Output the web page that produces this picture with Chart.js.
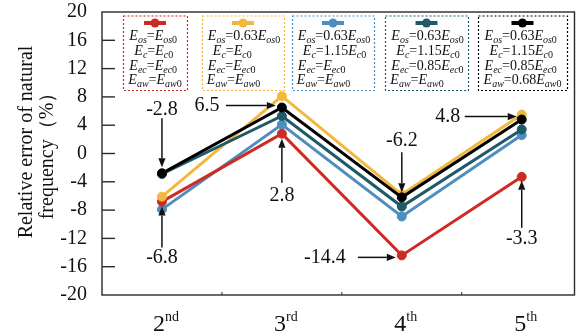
<!DOCTYPE html>
<html>
<head>
<meta charset="utf-8">
<script src="https://cdn.jsdelivr.net/npm/chart.js@4.4.1/dist/chart.umd.min.js"></script>
<style>
  html, body { margin: 0; padding: 0; background: #ffffff; }
  #wrap { width: 580px; height: 333px; position: relative; }
  #probe { position: absolute; left: -9999px; top: 0; font-family: "Liberation Serif"; font-size: 20px; }
  #probe i { font-style: italic; }
</style>
</head>
<body>
<div id="wrap"><canvas id="chart" width="580" height="333"></canvas></div>
<span id="probe">Relative 0123456789 <i>Eosc</i></span>
<script>
// Vibration orders on the horizontal axis
const modeOrders = [2, 3, 4, 5];
const modeSuffixes = ['nd', 'rd', 'th', 'th'];

// Vertical axis range and tick step (%)
const yMin = -20;
const yMax = 20;
const yStep = 4;

// Relative error of natural frequency (%) for each parameter case
const caseBase   = [-6.8, 2.8, -14.4, -3.3];
const caseOs     = [-6.1, 8.1, -5.8, 5.5];
const caseOsC    = [-7.9, 4.1, -8.9, 2.6];
const caseOsCEc  = [-2.9, 5.3, -7.5, 3.4];
const caseAll    = [-2.8, 6.5, -6.2, 4.8];

// Parameter descriptions shown in each legend box
const legendBase  = ['E_{os}=E_{os0}', 'E_{c}=E_{c0}', 'E_{ec}=E_{ec0}', 'E_{aw}=E_{aw0}'];
const legendOs    = ['E_{os}=0.63E_{os0}', 'E_{c}=E_{c0}', 'E_{ec}=E_{ec0}', 'E_{aw}=E_{aw0}'];
const legendOsC   = ['E_{os}=0.63E_{os0}', 'E_{c}=1.15E_{c0}', 'E_{ec}=E_{ec0}', 'E_{aw}=E_{aw0}'];
const legendOsCEc = ['E_{os}=0.63E_{os0}', 'E_{c}=1.15E_{c0}', 'E_{ec}=0.85E_{ec0}', 'E_{aw}=E_{aw0}'];
const legendAll   = ['E_{os}=0.63E_{os0}', 'E_{c}=1.15E_{c0}', 'E_{ec}=0.85E_{ec0}', 'E_{aw}=0.68E_{aw0}'];

// Which points get a value callout: [dataset index, point index]
const calloutPoints = [[4, 0], [4, 1], [0, 1], [0, 0], [0, 2], [4, 2], [4, 3], [0, 3]];

// ---- styling -------------------------------------------------------------
const SERIF = '"Liberation Serif", "Times New Roman", Times, serif';
const colors = ['#cf2b25', '#f2b73d', '#4d8dbf', '#1f5a69', '#000000'];
const drawOrder = [3, 2, 4, 1, 0];   // lower = drawn on top
const seriesValues = [caseBase, caseOs, caseOsC, caseOsCEc, caseAll];
const legendTexts = [legendBase, legendOs, legendOsC, legendOsCEc, legendAll];

// legend box rectangles [x, y, w, h]
const legendBoxes = [
  [123, 15.5, 64, 74.5],
  [202, 15.5, 82, 74.5],
  [292, 15.5, 82, 74.5],
  [385, 15.5, 83, 74.5],
  [478, 15.5, 89, 74.5]
];

// callout geometry relative to the point: side, text offset, arrow start/end offset
const calloutLayout = [
  { side: 'above', t: -64, a0: -55, a1: -6 },
  { side: 'left', t: -75, ty: -2, a0: -56, a1: -6 },
  { side: 'below', t: 62, a0: 49, a1: 5 },
  { side: 'below', t: 56, a0: 46, a1: 5 },
  { side: 'left', t: -77, ty: 2, a0: -44, a1: -6 },
  { side: 'above', t: -57, a0: -45, a1: -5 },
  { side: 'left', t: -74, ty: -3, a0: -57, a1: -5 },
  { side: 'below', t: 62, a0: 51, a1: 4 }
];

const datasets = seriesValues.map((vals, k) => ({
  data: vals.map((v, i) => ({ x: modeOrders[i], y: v })),
  borderColor: colors[k],
  backgroundColor: colors[k],
  pointBackgroundColor: colors[k],
  pointBorderColor: colors[k],
  borderWidth: 3,
  pointRadius: 4.5,
  pointBorderWidth: 1,
  tension: 0,
  order: drawOrder[k]
}));

// ---- helpers --------------------------------------------------------------
function parseMath(str) {
  const parts = [];
  let i = 0;
  while (i < str.length) {
    if (str[i] === '_' && str[i + 1] === '{') {
      const end = str.indexOf('}', i);
      const sub = str.slice(i + 2, end);
      for (const ch of sub) parts.push({ t: ch, sub: true, it: !/[0-9]/.test(ch) });
      i = end + 1;
    } else {
      const ch = str[i];
      parts.push({ t: ch, sub: false, it: /[A-Za-z]/.test(ch) });
      i++;
    }
  }
  return parts;
}

function mathFont(p) {
  return (p.it ? 'italic ' : '') + (p.sub ? '10px ' : '14px ') + SERIF;
}

function mathWidth(ctx, parts) {
  let w = 0;
  for (const p of parts) { ctx.font = mathFont(p); w += ctx.measureText(p.t).width; }
  return w;
}

function drawMath(ctx, parts, x, y) {
  let cx = x;
  for (const p of parts) {
    ctx.font = mathFont(p);
    ctx.fillText(p.t, cx, p.sub ? y + 3 : y);
    cx += ctx.measureText(p.t).width;
  }
}

function arrow(ctx, x0, y0, x1, y1) {
  const ang = Math.atan2(y1 - y0, x1 - x0);
  const hl = 9, hw = 3.6;
  const bx = x1 - hl * Math.cos(ang), by = y1 - hl * Math.sin(ang);
  ctx.beginPath();
  ctx.moveTo(x0, y0);
  ctx.lineTo(bx, by);
  ctx.stroke();
  ctx.beginPath();
  ctx.moveTo(x1, y1);
  ctx.lineTo(bx + hw * Math.sin(ang), by - hw * Math.cos(ang));
  ctx.lineTo(bx - hw * Math.sin(ang), by + hw * Math.cos(ang));
  ctx.closePath();
  ctx.fill();
}

// ---- plugins --------------------------------------------------------------
const decorations = {
  id: 'decorations',
  afterDatasetsDraw(chart) {
    const { ctx, chartArea: a, scales } = chart;
    const xs = scales.x, ys = scales.y;
    ctx.save();

    // frame
    ctx.strokeStyle = '#2a2a2a';
    ctx.lineWidth = 1.4;
    ctx.strokeRect(a.left, a.top, a.right - a.left, a.bottom - a.top);

    // inward y ticks
    for (let v = yMin + yStep; v < yMax; v += yStep) {
      const py = ys.getPixelForValue(v);
      ctx.beginPath();
      ctx.moveTo(a.left, py);
      ctx.lineTo(a.left + 13, py);
      ctx.stroke();
    }
    // small x ticks between orders
    ctx.lineWidth = 1;
    for (let i = 0; i < modeOrders.length - 1; i++) {
      const px = xs.getPixelForValue((modeOrders[i] + modeOrders[i + 1]) / 2);
      ctx.beginPath();
      ctx.moveTo(px, a.bottom);
      ctx.lineTo(px, a.bottom - 3);
      ctx.stroke();
    }

    // x labels with superscript ordinals
    ctx.fillStyle = '#111';
    ctx.textBaseline = 'alphabetic';
    ctx.textAlign = 'left';
    modeOrders.forEach((m, i) => {
      const px = xs.getPixelForValue(m);
      ctx.font = '24px ' + SERIF;
      const w1 = ctx.measureText(String(m)).width;
      ctx.font = '14px ' + SERIF;
      const w2 = ctx.measureText(modeSuffixes[i]).width;
      const x0 = px - (w1 + w2) / 2 + 4;
      ctx.font = '24px ' + SERIF;
      ctx.fillText(String(m), x0, 331);
      ctx.font = '14px ' + SERIF;
      ctx.fillText(modeSuffixes[i], x0 + w1, 321);
    });

    // y axis title
    ctx.textAlign = 'center';
    ctx.textBaseline = 'middle';
    ctx.font = '20px ' + SERIF;
    ctx.save();
    ctx.translate(27, 142);
    ctx.rotate(-Math.PI / 2);
    ctx.fillText('Relative error of natural', 0, 0);
    ctx.restore();
    ctx.save();
    ctx.translate(48, 151);
    ctx.rotate(-Math.PI / 2);
    ctx.fillText('frequency（%）', 0, 0);
    ctx.restore();

    // value callouts with arrows
    ctx.strokeStyle = '#111';
    ctx.fillStyle = '#111';
    ctx.lineWidth = 1.5;
    calloutPoints.forEach(([d, i], k) => {
      const L = calloutLayout[k];
      const v = seriesValues[d][i];
      const px = xs.getPixelForValue(modeOrders[i]);
      const py = ys.getPixelForValue(v);
      ctx.font = '20px ' + SERIF;
      ctx.textAlign = 'center';
      ctx.textBaseline = 'middle';
      const label = v.toFixed(1);
      if (L.side === 'left') {
        ctx.fillText(label, px + L.t, py + L.ty);
        arrow(ctx, px + L.a0, py + L.ty, px + L.a1, py + L.ty);
      } else {
        ctx.fillText(label, px, py + L.t);
        arrow(ctx, px, py + L.a0, px, py + L.a1);
      }
    });
    ctx.restore();
  },
  afterDraw(chart) {
    const { ctx } = chart;
    ctx.save();
    legendBoxes.forEach(([bx, by, bw, bh], k) => {
      // dotted box
      ctx.setLineDash([2, 2]);
      ctx.lineWidth = 1.2;
      ctx.strokeStyle = colors[k];
      ctx.strokeRect(bx + 0.5, by + 0.5, bw, bh);
      ctx.setLineDash([]);

      // series symbol
      const cx = bx + bw / 2;
      ctx.lineWidth = 4;
      ctx.beginPath();
      ctx.moveTo(cx - 11, 23);
      ctx.lineTo(cx + 11, 23);
      ctx.stroke();
      ctx.fillStyle = colors[k];
      ctx.beginPath();
      ctx.arc(cx, 23, 4.5, 0, Math.PI * 2);
      ctx.fill();

      // parameter lines
      ctx.fillStyle = '#111';
      ctx.textAlign = 'left';
      ctx.textBaseline = 'alphabetic';
      const lines = legendTexts[k].map(parseMath);
      const widths = lines.map(p => mathWidth(ctx, p));
      const maxW = Math.max(...widths);
      const left = bx + (bw - maxW) / 2 + 1;
      const baselines = [39.5, 54.5, 69.5, 84];
      const indents = [0, 5, 0, -1];
      lines.forEach((p, j) => drawMath(ctx, p, left + indents[j], baselines[j]));
    });
    ctx.restore();
  }
};

function build() {
  new Chart(document.getElementById('chart'), {
    type: 'line',
    data: { datasets },
    options: {
      responsive: false,
      animation: false,
      devicePixelRatio: 1,
      layout: { padding: { top: 12, right: 2, left: 0, bottom: 0 } },
      plugins: { legend: { display: false }, tooltip: { enabled: false } },
      scales: {
        x: {
          type: 'linear',
          min: 1.5,
          max: 5.44,
          grid: { display: false, drawTicks: false },
          border: { display: false },
          ticks: { display: false },
          afterFit(s) { s.height = 38; s.paddingLeft = 0; s.paddingRight = 0; }
        },
        y: {
          min: yMin,
          max: yMax,
          grid: { display: false, drawTicks: false },
          border: { display: false },
          ticks: {
            stepSize: yStep,
            autoSkip: false,
            padding: 15,
            color: '#111',
            font: { family: SERIF, size: 20 }
          },
          afterFit(s) { s.width = 102; s.paddingTop = 0; s.paddingBottom = 0; }
        }
      }
    },
    plugins: [decorations]
  });
}

Promise.all([
  document.fonts.load('20px "Liberation Serif"'),
  document.fonts.load('italic 14px "Liberation Serif"')
]).catch(() => {}).then(() => document.fonts.ready).then(build);
</script>
</body>
</html>
